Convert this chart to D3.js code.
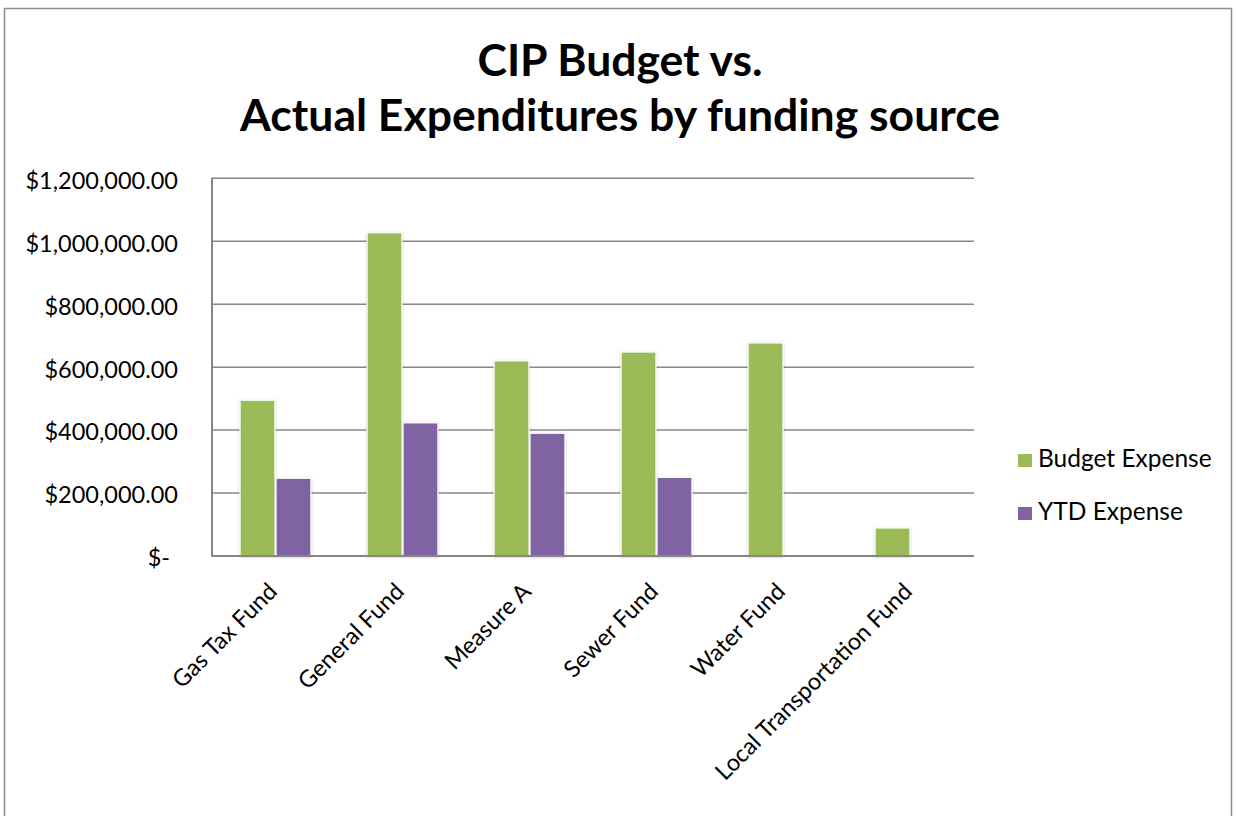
<!DOCTYPE html>
<html>
<head>
<meta charset="utf-8">
<script src="https://cdn.jsdelivr.net/npm/d3@7"></script>
<style>
  html, body { margin: 0; padding: 0; background: #fff; }
  svg { display: block; }
</style>
</head>
<body>
<svg id="chart" width="1236" height="816"></svg>
<script>
// ---- data ----
const categories = ["Gas Tax Fund", "General Fund", "Measure A", "Sewer Fund", "Water Fund", "Local Transportation Fund"];
const seriesNames = ["Budget Expense", "YTD Expense"];
const budgetExpense = [495000, 1027000, 620000, 648000, 677000, 89000];
const ytdExpense = [247000, 423000, 390000, 250000, 0, 0];
const yTicks = [0, 200000, 400000, 600000, 800000, 1000000, 1200000];
const titleLines = ["CIP Budget vs.", "Actual Expenditures by funding source"];
const colors = ["#9BBB59", "#8064A2"];

const seriesValues = [budgetExpense, ytdExpense];
const rows = categories.map((c, i) => ({ cat: c, values: seriesNames.map((s, j) => ({ s, v: seriesValues[j][i], j })) }));

const svg = d3.select("#chart");
const FONT = "Lato, 'Open Sans', sans-serif";

// outer border
svg.append("rect").attr("x", 4.5).attr("y", 8.5).attr("width", 1227).attr("height", 830)
  .attr("fill", "#fff").attr("stroke", "#8c8c8c").attr("stroke-width", 1.5);

// defs: shadow
const defs = svg.append("defs");
const f = defs.append("filter").attr("id", "sh").attr("x", "-20%").attr("y", "-20%").attr("width", "140%").attr("height", "140%");
f.append("feDropShadow").attr("dx", 0).attr("dy", 0.5).attr("stdDeviation", 1.3).attr("flood-color", "#000").attr("flood-opacity", 0.25);

// title
svg.append("g").selectAll("text").data(titleLines).join("text")
  .attr("x", 620).attr("y", (d, i) => 76 + i * 55)
  .attr("text-anchor", "middle")
  .attr("font-family", FONT).attr("font-weight", "bold").attr("font-size", 44.5)
  .attr("fill", "#000").text(d => d);

// scales
const plotL = 212, plotR = 974, plotT = 178.3, plotB = 556;
const y = d3.scaleLinear().domain([0, 1200000]).range([plotB, plotT]);
const x0 = d3.scaleBand().domain(categories).range([plotL, plotR]).padding(0);
const x1 = d3.scaleBand().domain(seriesNames).range([0, x0.bandwidth()]).paddingInner(0.03).paddingOuter(0.78);

// gridlines
svg.append("g").selectAll("line").data(yTicks.filter(d => d > 0)).join("line")
  .attr("x1", plotL).attr("x2", plotR)
  .attr("y1", d => y(d)).attr("y2", d => y(d))
  .attr("stroke", "#878787").attr("stroke-width", 1.5);

// y axis labels
const fmt = d3.format("$,.2f");
const yAxis = d3.axisLeft(y).tickValues(yTicks).tickSize(0).tickPadding(34)
  .tickFormat(d => d === 0 ? "$-" : fmt(d));
const ya = svg.append("g").attr("transform", `translate(${plotL},0)`).call(yAxis);
ya.select(".domain").remove();
ya.selectAll("text").attr("font-family", FONT).attr("font-size", 23.5).attr("fill", "#000")
  .attr("dy", "0.42em")
  .attr("dx", d => d === 0 ? -8 : 0);

// bars
const g = svg.append("g").selectAll("g").data(rows).join("g")
  .attr("transform", d => `translate(${x0(d.cat)},0)`);
g.selectAll("rect").data(d => d.values.filter(v => v.v > 0)).join("rect")
  .attr("x", d => x1(d.s)).attr("width", x1.bandwidth())
  .attr("y", d => y(d.v)).attr("height", d => y(0) - y(d.v))
  .attr("fill", d => colors[d.j])
  .attr("stroke", "#fff").attr("stroke-width", 1.2)
  .attr("filter", "url(#sh)");

// axis lines
svg.append("line").attr("x1", plotL).attr("x2", plotL).attr("y1", plotT - 0.5).attr("y2", plotB + 1)
  .attr("stroke", "#868686").attr("stroke-width", 2);
svg.append("line").attr("x1", plotL).attr("x2", plotR).attr("y1", plotB).attr("y2", plotB)
  .attr("stroke", "#868686").attr("stroke-width", 2);

// x labels
const xAxis = d3.axisBottom(x0).tickSize(0).tickPadding(0);
const xa = svg.append("g").attr("transform", `translate(0,${plotB})`).call(xAxis);
xa.select(".domain").remove();
xa.selectAll(".tick text")
  .attr("font-family", FONT).attr("font-size", 23.5).attr("fill", "#000")
  .attr("text-anchor", "end")
  .attr("dy", 0)
  .attr("y", 0)
  .attr("transform", "translate(3,37) rotate(-45)");

// legend
const lg = svg.append("g").selectAll("g").data(seriesNames).join("g")
  .attr("transform", (d, i) => `translate(1018,${454 + i * 53})`);
lg.append("rect").attr("width", 14).attr("height", 13).attr("fill", (d, i) => colors[i]);
lg.append("text").attr("x", 20).attr("y", 13).attr("font-family", FONT).attr("font-size", 24.5)
  .attr("fill", "#000").text(d => d);
</script>
</body>
</html>
